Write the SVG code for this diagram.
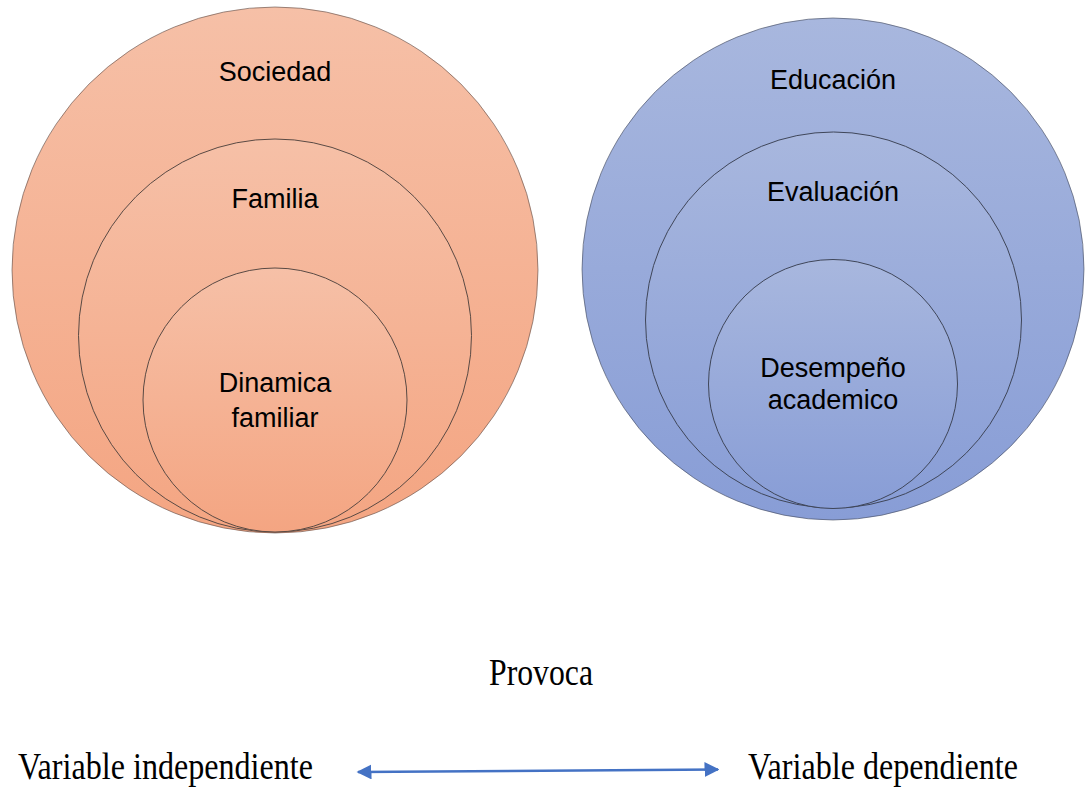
<svg xmlns="http://www.w3.org/2000/svg" width="1086" height="787" viewBox="0 0 1086 787">
<defs>
<linearGradient id="gOrange" x1="0" y1="0" x2="0" y2="1">
<stop offset="0" stop-color="#f6c0a7"/>
<stop offset="1" stop-color="#f4a582"/>
</linearGradient>
<linearGradient id="gBlue" x1="0" y1="0" x2="0" y2="1">
<stop offset="0" stop-color="#a8b7de"/>
<stop offset="1" stop-color="#889dd6"/>
</linearGradient>
<marker id="ah" viewBox="0 0 10 10" refX="9" refY="5" markerWidth="6" markerHeight="6" orient="auto-start-reverse" markerUnits="strokeWidth">
<path d="M0,0 L10,5 L0,10 Z" fill="#4472c4"/>
</marker>
<style>
.or{fill:url(#gOrange);stroke:#5a4a44;stroke-width:1}
.bl{fill:url(#gBlue);stroke:#3f4659;stroke-width:1}
.outer{stroke-opacity:0.6}
.lbl{font-family:"Liberation Sans","Open Sans",sans-serif;font-size:27px;fill:#000;text-anchor:middle}
.ser{font-family:"Liberation Serif","DejaVu Serif",serif;font-size:37px;fill:#000}
</style>
</defs>
<g id="sociedad"><circle class="or outer" cx="275" cy="270" r="263"/><text class="lbl" x="275" y="81">Sociedad</text></g>
<g id="familia"><circle class="or" cx="275" cy="335.5" r="196.5"/><text class="lbl" x="275" y="208">Familia</text></g>
<g id="dinamica"><circle class="or" cx="275" cy="400" r="132"/><text class="lbl" x="275" y="392">Dinamica</text><text class="lbl" x="275" y="427">familiar</text></g>
<g id="educacion"><circle class="bl outer" cx="833" cy="269" r="251"/><text class="lbl" x="833" y="89">Educación</text></g>
<g id="evaluacion"><circle class="bl" cx="833.5" cy="320" r="188"/><text class="lbl" x="833" y="201">Evaluación</text></g>
<g id="desempeno"><circle class="bl" cx="833" cy="384" r="124.5"/><text class="lbl" x="833" y="377">Desempeño</text><text class="lbl" x="833" y="409">academico</text></g>
<g id="provoca"><text class="ser" x="489" y="685" textLength="104" lengthAdjust="spacingAndGlyphs">Provoca</text></g>
<g id="var-indep"><text class="ser" x="18" y="779" textLength="295" lengthAdjust="spacingAndGlyphs">Variable independiente</text></g>
<g id="var-dep"><text class="ser" x="748" y="779" textLength="270" lengthAdjust="spacingAndGlyphs">Variable dependiente</text></g>
<g id="connectors">
<line x1="358" y1="772" x2="718" y2="769.5" stroke="#4472c4" stroke-width="2.5" marker-start="url(#ah)" marker-end="url(#ah)"/>
</g>
</svg>
